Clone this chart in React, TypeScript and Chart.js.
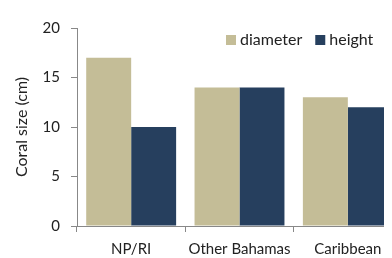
import React, { useEffect, useRef } from "react";
import { Chart, registerables } from "chart.js";

Chart.register(...registerables);

const categories = ["NP/RI", "Other Bahamas", "Caribbean"];
const diameterValues = [17, 14, 13];
const heightValues = [10, 14, 12];
const seriesLabels = ["diameter", "height"];
const seriesColors = ["#C4BD97", "#263F5E"];
const yTicks = [0, 5, 10, 15, 20];

const FONT = "Lato, 'Open Sans', sans-serif";

const legendPlugin = {
  id: "innerLegend",
  afterDraw(chart: any) {
    const ctx = chart.ctx;
    const area = chart.chartArea;
    ctx.save();
    ctx.font = `16px ${FONT}`;
    ctx.textBaseline = "middle";
    ctx.textAlign = "left";
    let x = area.left + 149;
    const y = area.top + 12;
    chart.data.datasets.forEach((ds: any) => {
      ctx.fillStyle = ds.backgroundColor;
      ctx.fillRect(x, y - 5, 10, 10);
      ctx.fillStyle = "#222";
      ctx.fillText(ds.label, x + 14, y);
      x += 14 + ctx.measureText(ds.label).width + 13;
    });
    ctx.restore();
  },
};

export default function App() {
  const ref = useRef<HTMLCanvasElement>(null);
  useEffect(() => {
    if (!ref.current) return;
    const chart = new Chart(ref.current, {
      type: "bar",
      data: {
        labels: categories,
        datasets: [
          { label: seriesLabels[0], data: diameterValues, backgroundColor: seriesColors[0] },
          { label: seriesLabels[1], data: heightValues, backgroundColor: seriesColors[1] },
        ],
      },
      options: {
        responsive: false,
        animation: false,
        layout: { padding: { top: 11, right: 0, left: 0, bottom: 0 } },
        plugins: { legend: { display: false }, tooltip: { enabled: false } },
        datasets: { bar: { categoryPercentage: 0.83, barPercentage: 1.0 } },
        scales: {
          x: {
            type: "category",
            offset: true,
            grid: { offset: true, drawOnChartArea: false, drawTicks: true, tickLength: 6, color: "#888" },
            border: { color: "#888" },
            ticks: { color: "#222", font: { family: FONT, size: 15 }, padding: 8, maxRotation: 0 },
            afterFit: (s: any) => { s.height = 32; },
          },
          y: {
            min: 0,
            max: 20,
            afterBuildTicks: (s: any) => { s.ticks = yTicks.map((v) => ({ value: v })); },
            grid: { drawOnChartArea: false, drawTicks: true, tickLength: 6, color: "#888" },
            border: { color: "#888" },
            ticks: { color: "#222", font: { family: FONT, size: 15 }, padding: 11 },
            title: { display: true, text: "Coral size (cm)", color: "#222", font: { family: FONT, size: 16 }, padding: { top: 4, bottom: 0 } },
            afterFit: (s: any) => { s.width = 69; },
          },
        },
      },
      plugins: [legendPlugin],
    });
    return () => chart.destroy();
  }, []);
  return (
    <div style={{ width: 384, height: 250, overflow: "hidden" }}>
      <canvas ref={ref} width={394} height={250} style={{ display: "block" }} />
    </div>
  );
}
